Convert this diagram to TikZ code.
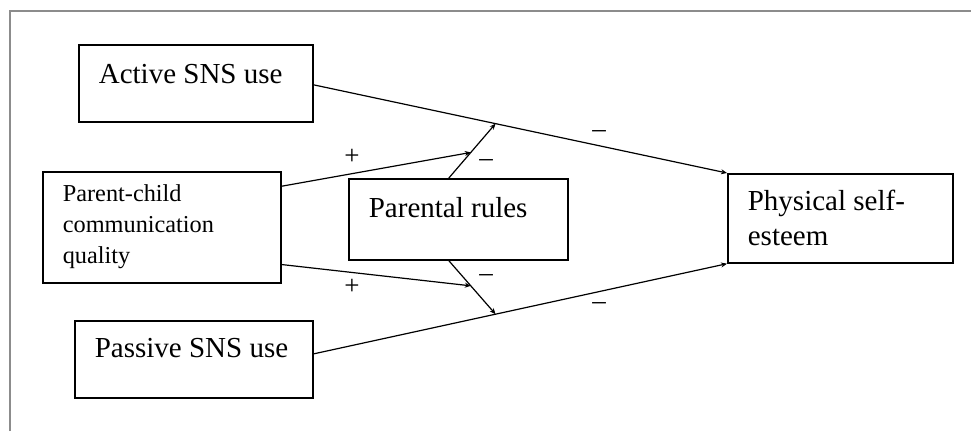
\documentclass[tikz,border=0pt]{standalone}
\usepackage{fontspec}
\setmainfont{Liberation Serif}
\usetikzlibrary{arrows.meta, calc}
\tikzstyle{varbox} = [draw, line width=1.7pt, rectangle, inner sep=0pt, anchor=north west, font=\fontsize{29}{35}\selectfont]
\tikzstyle{effect} = [draw, line width=1.2pt, -{Stealth[length=6pt, width=5pt]}]
\tikzstyle{sign} = [font=\fontsize{27}{27}\selectfont, inner sep=0pt]
% box text: height, width, first baseline, text
\newcommand{\boxtext}[4]{\begin{minipage}[t][#1][t]{#2}\raggedright\leftskip=20pt\rule{0pt}{#3}#4\end{minipage}}

\begin{document}
\begin{tikzpicture}[x=1pt, y=-1pt]
  \useasboundingbox (0,0) rectangle (971,431);
  % frame
  \draw[black!45, line width=1.6pt] (10,431) -- (10,11) -- (971,11);

  \node[varbox] (active) at (78,44) {\boxtext{77pt}{234pt}{39pt}{Active SNS use}};
  \node[varbox] (parent) at (42,171) {\boxtext{111pt}{238pt}{30pt}{\fontsize{24.3}{31}\selectfont Parent-child\\communication\\quality}};
  \node[varbox] (rules) at (348,178) {\boxtext{81pt}{219pt}{39pt}{Parental rules}};
  \node[varbox] (passive) at (74,320) {\boxtext{77pt}{238pt}{37pt}{Passive SNS use}};
  \node[varbox] (selfesteem) at (727,173) {\boxtext{89pt}{225pt}{37pt}{Physical self-\\esteem}};

  \coordinate (active-out) at ([yshift=-1.5pt]active.east);
  \coordinate (passive-out) at ([yshift=5.5pt]passive.east);
  \coordinate (top-mod) at ($(active-out)!0.44!(selfesteem.north west)$);
  \coordinate (bottom-mod) at ($(passive-out)!0.44!(selfesteem.south west)$);
  \coordinate (rules-top) at ([xshift=-9.5pt]rules.north);
  \coordinate (rules-bottom) at ([xshift=-9.5pt]rules.south);

  \draw[effect] (active-out) -- (selfesteem.north west);
  \draw[effect] (passive-out) -- (selfesteem.south west);
  \draw[effect] (rules-top) -- (top-mod);
  \draw[effect] (rules-bottom) -- (bottom-mod);
  \draw[effect] ($(parent.north east)!0.135!(parent.south east)$) -- ($(rules-top)!0.47!(top-mod)$);
  \draw[effect] ($(parent.north east)!0.83!(parent.south east)$) -- ($(rules-bottom)!0.47!(bottom-mod)$);

  \node[sign] (plus-top) at (352,157) {+};
  \node[sign] (plus-bottom) at (352,287) {+};
  \node[sign] (minus-top) at (486,163) {--};
  \node[sign] (minus-active) at (599,134) {--};
  \node[sign] (minus-bottom) at (486,278) {--};
  \node[sign] (minus-passive) at (599,306) {--};
\end{tikzpicture}
\end{document}
